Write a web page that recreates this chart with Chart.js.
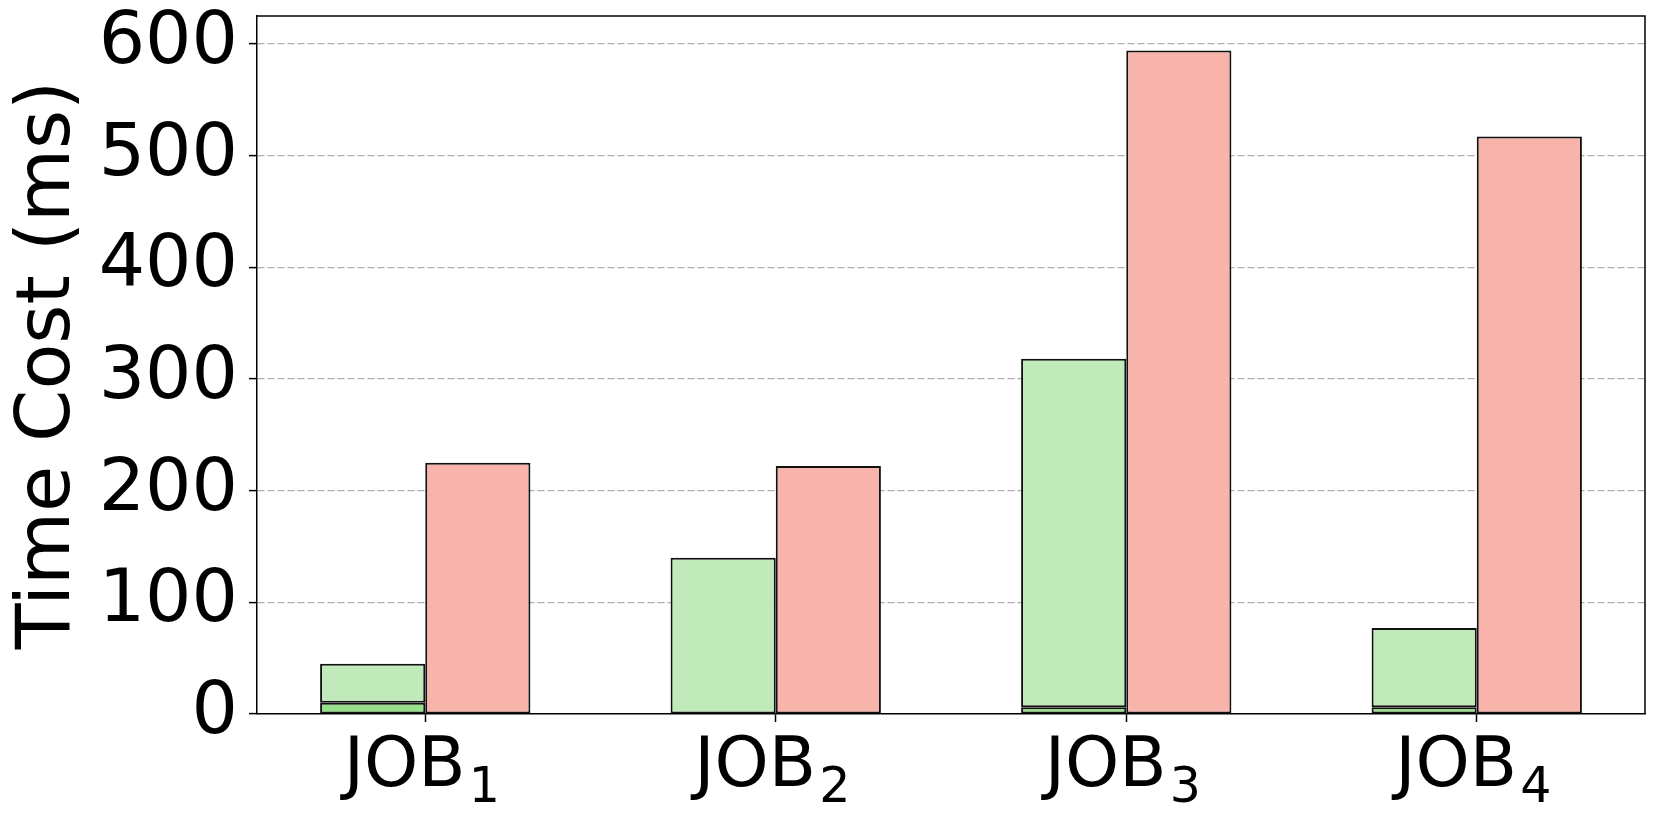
<!DOCTYPE html>
<html>
<head>
<meta charset="utf-8">
<script src="https://cdn.jsdelivr.net/npm/chart.js@4/dist/chart.umd.min.js"></script>
<style>
  html, body { margin: 0; padding: 0; background: #fff; }
  #wrap { width: 1662px; height: 819px; }
</style>
</head>
<body>
<div id="wrap"><canvas id="costChart"></canvas></div>
<script>
// values
const jobs = ['JOB1', 'JOB2', 'JOB3', 'JOB4'];
const greenBase = [10, 0, 6, 6];       // dark green bottom part
const greenRest = [35, 140, 312, 71];  // light green upper part
const redCost = [225, 222, 594, 517];
const yTicks = [0, 100, 200, 300, 400, 500, 600];

const toPoints = (arr) => arr.map((v, i) => ({ x: i, y: v }));

// top + right spine, like a matplotlib frame
const framePlugin = {
    id: 'frame',
    afterDatasetsDraw(chart) {
        const { ctx, chartArea: a } = chart;
        ctx.save();
        ctx.strokeStyle = '#000';
        ctx.lineWidth = 1.5;
        ctx.beginPath();
        ctx.moveTo(a.left, a.top);
        ctx.lineTo(a.right, a.top);
        ctx.lineTo(a.right, a.bottom);
        ctx.stroke();
        ctx.restore();
    }
};

// x labels with a real subscript (JOB + small digit)
const subLabelPlugin = {
    id: 'subLabels',
    afterDraw(chart) {
        const { ctx, scales: { x } } = chart;
        const big = 69, small = 49;
        ctx.save();
        ctx.fillStyle = '#000';
        ctx.textBaseline = 'alphabetic';
        ctx.textAlign = 'left';
        jobs.forEach((name, i) => {
            const m = name.match(/^(\D+)(\d+)$/);
            ctx.font = big + 'px "DejaVu Sans"';
            const w1 = ctx.measureText(m[1]).width;
            ctx.font = small + 'px "DejaVu Sans"';
            const w2 = ctx.measureText(m[2]).width;
            const cx = x.getPixelForValue(i) - 5;
            const left = cx - (w1 + w2) / 2;
            const base = x.bottom - 33;
            ctx.font = big + 'px "DejaVu Sans"';
            ctx.fillText(m[1], left, base);
            ctx.font = small + 'px "DejaVu Sans"';
            ctx.fillText(m[2], left + w1 + 3, base + 16);
        });
        ctx.restore();
    }
};

document.addEventListener("DOMContentLoaded", () => {
    const ctx = document.getElementById('costChart').getContext('2d');

    new Chart(ctx, {
        type: 'bar',
        data: {
            datasets: [
                {
                    label: 'base',
                    data: toPoints(greenBase),
                    stack: 'g',
                    backgroundColor: '#98df8a',
                    borderColor: '#111',
                    borderWidth: 2,
                    borderSkipped: false
                },
                {
                    label: 'rest',
                    data: toPoints(greenRest),
                    stack: 'g',
                    backgroundColor: '#c1eabb',
                    borderColor: '#111',
                    borderWidth: 2,
                    borderSkipped: false
                },
                {
                    label: 'red',
                    data: toPoints(redCost),
                    stack: 'r',
                    backgroundColor: '#f8b4ab',
                    borderColor: '#111',
                    borderWidth: 2,
                    borderSkipped: false
                }
            ]
        },
        options: {
            responsive: true,
            maintainAspectRatio: false,
            animation: false,
            categoryPercentage: 0.6,
            barPercentage: 1.0,
            layout: { padding: { left: 0, right: 17, top: 16, bottom: 0 } },
            plugins: {
                legend: { display: false },
                tooltip: { enabled: false }
            },
            scales: {
                x: {
                    type: 'linear',
                    stacked: true,
                    offset: false,
                    min: -0.48,
                    max: 3.48,
                    afterFit: (s) => {
                        s.height = 105;
                        s.paddingLeft = 0; s.paddingRight = 0;
                    },
                    afterBuildTicks: (s) => { s.ticks = jobs.map((_, i) => ({ value: i })); },
                    border: { color: '#000', width: 1.5 },
                    grid: {
                        offset: false,
                        drawOnChartArea: false,
                        tickLength: 8,
                        tickColor: '#000',
                        tickWidth: 1.5
                    },
                    ticks: { display: false }
                },
                y: {
                    stacked: true,
                    min: 0,
                    max: 625,
                    afterFit: (s) => {
                        s.width = 257;
                        s.paddingTop = 0; s.paddingBottom = 0;
                    },
                    afterBuildTicks: (s) => { s.ticks = yTicks.map(v => ({ value: v })); },
                    border: { color: '#000', width: 1.5, dash: [7, 3] },
                    grid: {
                        color: (c) => c.tick && c.tick.value === 0 ? 'rgba(0,0,0,0)' : '#b0b0b0',
                        lineWidth: 1.2,
                        tickLength: 8,
                        tickColor: '#000',
                        tickWidth: 1.5,
                        tickBorderDash: []
                    },
                    ticks: {
                        padding: 11,
                        color: '#000',
                        font: { family: 'DejaVu Sans', size: 73 }
                    },
                    title: {
                        display: true,
                        text: 'Time Cost (ms)',
                        color: '#000',
                        font: { family: 'DejaVu Sans', size: 75 },
                        padding: { top: 5, bottom: 0 }
                    }
                }
            }
        },
        plugins: [framePlugin, subLabelPlugin]
    });
});
</script>
</body>
</html>
